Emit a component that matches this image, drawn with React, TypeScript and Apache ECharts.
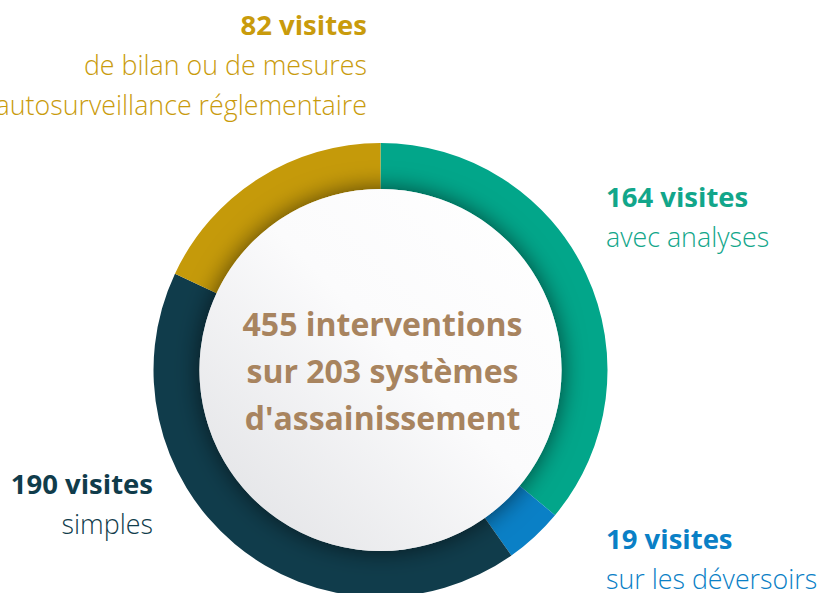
import React, { useEffect, useRef } from 'react';
import * as echarts from 'echarts';

// ---- data ----
const counts = [164, 19, 190, 82];
const countSuffix = ' visites';
const descriptions = [
  ['avec analyses'],
  ['sur les déversoirs'],
  ['simples'],
  ['de bilan ou de mesures', 'autosurveillance réglementaire'],
];
const sliceColors = ['#02A68A', '#0A80C6', '#103C4B', '#C59A0A'];
const labelColors = ['#12A68A', '#0A80C6', '#103C4B', '#C99B0C'];
const centerLines = ['455 interventions', 'sur 203 systèmes', "d'assainissement"];

// ---- layout ----
const CX = 380.5;
const CY = 370;
const R_OUT = 227;
const R_IN = 181;
const FONT = '"Open Sans", "Noto Sans", sans-serif';
const BOLD_SIZE = 27.5;
const REG_SIZE = 26.8;
const CENTER_SIZE = 32;
const LINE_GAP = 40;
const anchors = [
  { x: 606, y: 206, align: 'left' },
  { x: 606, y: 548, align: 'left' },
  { x: 153, y: 493, align: 'right' },
  { x: 367, y: 34, align: 'right' },
];

function baselineToMiddle(baseline: number, size: number) {
  return baseline - 0.36 * size;
}

export default function App() {
  const ref = useRef<HTMLDivElement>(null);
  useEffect(() => {
    if (!ref.current) return;
    const chart = echarts.init(ref.current, null, { renderer: 'svg' });
    const graphics: any[] = [];
    counts.forEach((c, i) => {
      const a = anchors[i];
      graphics.push({
        type: 'text',
        x: a.x,
        y: baselineToMiddle(a.y, BOLD_SIZE),
        style: {
          text: c + countSuffix,
          fill: labelColors[i],
          font: `bold ${BOLD_SIZE}px ${FONT}`,
          textAlign: a.align,
          textVerticalAlign: 'middle',
        },
      });
      descriptions[i].forEach((line, j) => {
        graphics.push({
          type: 'text',
          x: a.x,
          y: baselineToMiddle(a.y + LINE_GAP * (j + 1), REG_SIZE),
          style: {
            text: line,
            fill: labelColors[i],
            font: `300 ${REG_SIZE}px ${FONT}`,
            textAlign: a.align,
            textVerticalAlign: 'middle',
          },
        });
      });
    });
    centerLines.forEach((line, k) => {
      graphics.push({
        type: 'text',
        x: CX + 2,
        y: baselineToMiddle(335 + 47 * k, CENTER_SIZE),
        z: 10,
        style: {
          text: line,
          fill: '#A8845F',
          font: `bold ${CENTER_SIZE}px ${FONT}`,
          textAlign: 'center',
          textVerticalAlign: 'middle',
        },
      });
    });

    chart.setOption({
      animation: false,
      backgroundColor: '#ffffff',
      series: [
        {
          type: 'pie',
          center: [CX, CY],
          radius: [R_IN, R_OUT],
          startAngle: 90,
          clockwise: true,
          silent: true,
          label: { show: false },
          labelLine: { show: false },
          itemStyle: { borderWidth: 0 },
          data: counts.map((v, i) => ({
            value: v,
            name: descriptions[i].join(' '),
            itemStyle: { color: sliceColors[i] },
          })),
          z: 1,
        },
        {
          type: 'pie',
          center: [CX, CY],
          radius: [0, R_IN],
          silent: true,
          label: { show: false },
          labelLine: { show: false },
          data: [
            {
              value: 1,
              name: 'centre',
              itemStyle: {
                color: new echarts.graphic.LinearGradient(1, 0, 0, 1, [
                  { offset: 0, color: '#ffffff' },
                  { offset: 0.45, color: '#fbfbfc' },
                  { offset: 1, color: '#dfe0e3' },
                ]),
                shadowBlur: 24,
                shadowColor: 'rgba(0,0,0,0.6)',
              },
            },
          ],
          z: 2,
        },
      ],
      graphic: graphics,
    });
    return () => chart.dispose();
  }, []);
  return (
    <div
      ref={ref}
      style={{ position: 'fixed', left: 0, top: 0, width: 819, height: 593 }}
    />
  );
}
